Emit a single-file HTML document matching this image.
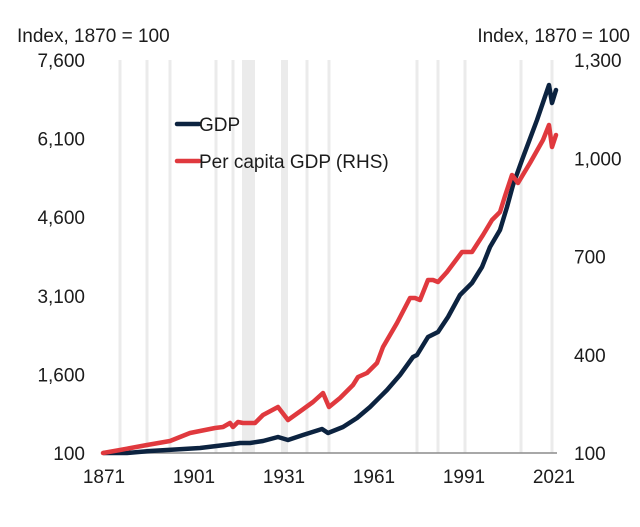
<!DOCTYPE html>
<html><head><meta charset="utf-8"><style>
html,body{margin:0;padding:0;background:#fff;}
svg{display:block;}
text{font-family:"Liberation Sans",Arial,sans-serif;font-size:19px;fill:#1c1c1c;}
</style></head><body>
<svg width="640" height="527" viewBox="0 0 640 527" xmlns="http://www.w3.org/2000/svg">
<rect width="640" height="527" fill="#fff"/>
<g fill="#ebebeb">
<rect x="118.5" y="60" width="3" height="393"/>
<rect x="145.5" y="60" width="3" height="393"/>
<rect x="168.5" y="60" width="3" height="393"/>
<rect x="214.5" y="60" width="3" height="393"/>
<rect x="231.5" y="60" width="3" height="393"/>
<rect x="242" y="60" width="13" height="393"/>
<rect x="281" y="60" width="7" height="393"/>
<rect x="305.5" y="60" width="3" height="393"/>
<rect x="327.5" y="60" width="3" height="393"/>
<rect x="415.5" y="60" width="3" height="393"/>
<rect x="436.5" y="60" width="3" height="393"/>
<rect x="463.5" y="60" width="3" height="393"/>
<rect x="519.5" y="60" width="3" height="393"/>
<rect x="550.5" y="60" width="3" height="393"/>
</g>
<line x1="103" y1="453" x2="557" y2="453" stroke="#8c8c8c" stroke-width="1.5"/>
<polyline fill="none" stroke="#0c2340" stroke-width="4.5" stroke-linejoin="round" stroke-linecap="round" points="104,453 127,453 150,451 167,450 200,448 233,444 240,443 250,443 263,441 278,437 288,440 303,435 322,429 328,433 343,427 357,418 370,407 387,390 400,375 413,357 417,355 428,337 438,332 448,317 460,295 472,283 482,267 490,247 500,230 507,207 513,185 522,160 537,120 549,85 552,103 556,90"/>
<polyline fill="none" stroke="#e0393e" stroke-width="4.5" stroke-linejoin="round" stroke-linecap="round" points="103,453 120,450 147,445 170,441 190,433 215,428 223,427 230,423 233,427 238,422 243,423 255,423 263,415 278,407 288,420 302,410 313,402 323,393 329,407 340,398 353,385 358,377 367,373 377,363 383,347 397,323 410,298 415,298 420,300 428,280 433,280 438,282 447,272 462,252 472,252 483,235 492,220 500,212 505,196 512,175 518,183 530,163 543,140 549,125 552,147 556,135"/>
<g text-anchor="end">
<text x="85" y="67">7,600</text>
<text x="85" y="145.6">6,100</text>
<text x="85" y="224.2">4,600</text>
<text x="85" y="302.8">3,100</text>
<text x="85" y="381.4">1,600</text>
<text x="85" y="460">100</text>
</g>
<g text-anchor="start">
<text x="574" y="67">1,300</text>
<text x="574" y="165.25">1,000</text>
<text x="574" y="263.5">700</text>
<text x="574" y="361.75">400</text>
<text x="574" y="460">100</text>
</g>
<g text-anchor="middle">
<text x="104" y="483">1871</text>
<text x="194" y="483">1901</text>
<text x="284" y="483">1931</text>
<text x="374" y="483">1961</text>
<text x="464" y="483">1991</text>
<text x="554" y="483">2021</text>
</g>
<text x="17" y="42">Index, 1870 = 100</text>
<text x="630" y="42" text-anchor="end">Index, 1870 = 100</text>
<line x1="177" y1="124" x2="199" y2="124" stroke="#0c2340" stroke-width="4.5" stroke-linecap="round"/>
<text x="199" y="131">GDP</text>
<line x1="177" y1="161" x2="199" y2="161" stroke="#e0393e" stroke-width="4.5" stroke-linecap="round"/>
<text x="199" y="168">Per capita GDP (RHS)</text>
</svg>
</body></html>
